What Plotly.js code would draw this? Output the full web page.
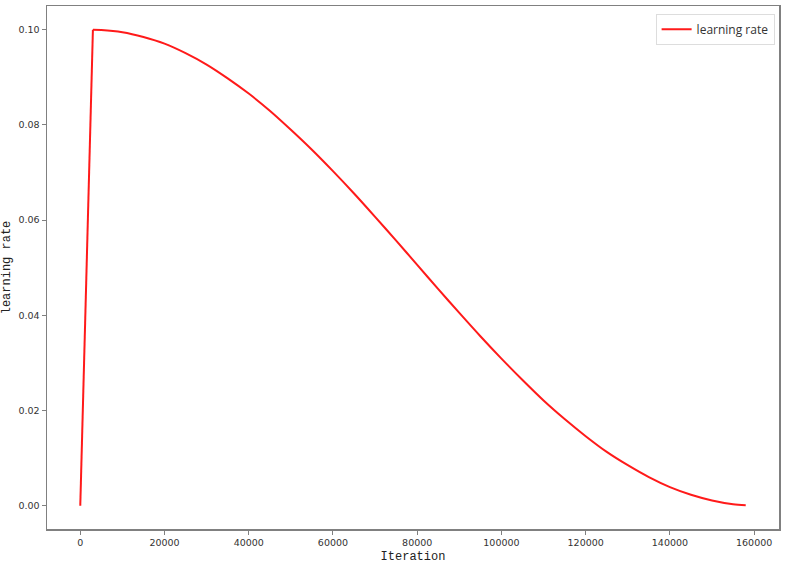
<!DOCTYPE html>
<html>
<head>
<meta charset="utf-8">
<script src="https://cdn.plot.ly/plotly-3.0.1.min.js"></script>
<style>html,body{margin:0;padding:0;background:#fff;}#chart{width:785px;height:564px;}</style>
</head>
<body>
<div id="chart"></div>
<script>
const warmupIterations = [0, 3000];
const warmupRate = [0, 0.1];
const decayIterations = [3000, 5000, 10000, 15000, 20000, 25000, 30000, 35000, 40000, 45000, 50000, 55000, 60000, 65000, 70000, 75000, 80000, 85000, 90000, 95000, 100000, 105000, 110000, 115000, 120000, 125000, 130000, 135000, 140000, 145000, 150000, 155000, 158000];
const decayRate = [0.1, 0.09996, 0.0995, 0.0985, 0.0971, 0.0951, 0.0927, 0.0898, 0.0866, 0.0830, 0.0790, 0.0748, 0.0703, 0.0656, 0.0607, 0.0557, 0.0506, 0.0455, 0.0405, 0.0356, 0.0309, 0.0264, 0.0221, 0.0182, 0.0146, 0.0113, 0.0085, 0.0060, 0.0039, 0.0023, 0.0011, 0.0003, 0.0001];
const xTicks = [0, 20000, 40000, 60000, 80000, 100000, 120000, 140000, 160000];
const yTicks = [0.00, 0.02, 0.04, 0.06, 0.08, 0.10];

const lineStyle = {color: '#ff1a1a', width: 2};
const traces = [
  {x: warmupIterations, y: warmupRate, type: 'scatter', mode: 'lines',
   name: 'learning rate', legendgroup: 'lr', line: lineStyle},
  {x: decayIterations, y: decayRate, type: 'scatter', mode: 'lines',
   name: 'learning rate', legendgroup: 'lr', showlegend: false,
   line: Object.assign({shape: 'spline', smoothing: 0.8}, lineStyle)}
];
const axisCommon = {
  showgrid: false, zeroline: false, showline: true, mirror: true,
  linecolor: '#808080', linewidth: 1.5, ticks: 'outside', ticklen: 4,
  tickcolor: '#808080', tickfont: {family: 'DejaVu Sans, sans-serif', size: 9.5, color: '#333'}
};
const layout = {
  width: 785, height: 564,
  margin: {l: 47, r: 6, t: 6, b: 35},
  paper_bgcolor: '#fff', plot_bgcolor: '#fff',
  showlegend: true,
  legend: {x: 0.994, y: 0.985, xanchor: 'right', yanchor: 'top', bgcolor: '#fff',
    bordercolor: '#dddddd', borderwidth: 1, font: {family: 'Open Sans, sans-serif', size: 12, color: '#333'}},
  xaxis: Object.assign({}, axisCommon, {
    range: [-7900, 165900], tickvals: xTicks, ticktext: xTicks.map(String),
    title: {text: 'Iteration', standoff: 4, font: {family: 'Liberation Mono, monospace', size: 12, color: '#222'}}
  }),
  yaxis: Object.assign({}, axisCommon, {
    range: [-0.0049, 0.105], tickvals: yTicks, ticktext: yTicks.map(v => v.toFixed(2)),
    title: {text: 'learning rate', standoff: 10, font: {family: 'Liberation Mono, monospace', size: 12, color: '#222'}}
  })
};
Plotly.newPlot('chart', traces, layout, {displayModeBar: false, staticPlot: true});
</script>
</body>
</html>
